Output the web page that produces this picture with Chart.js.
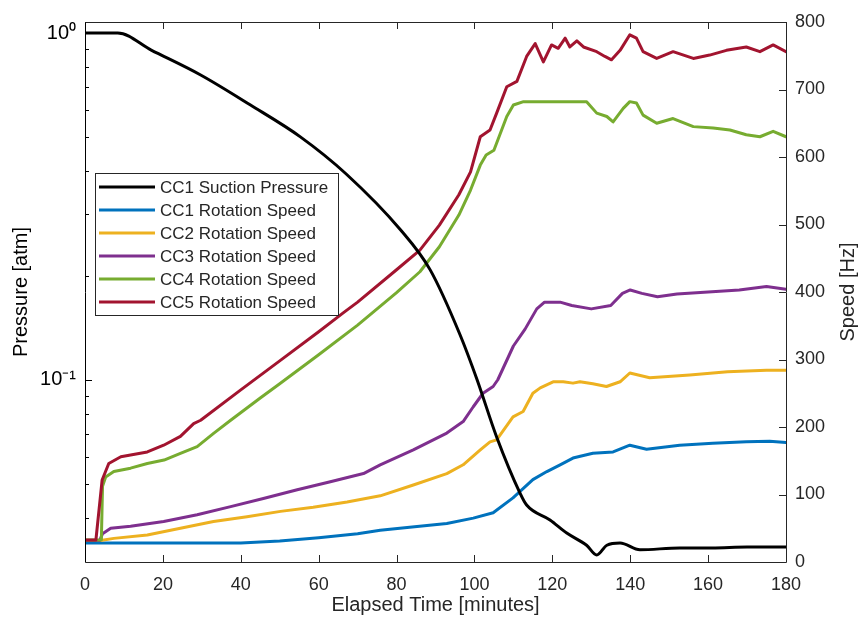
<!DOCTYPE html>
<html><head><meta charset="utf-8">
<script src="https://cdn.jsdelivr.net/npm/chart.js@4.4.0/dist/chart.umd.min.js"></script>
<style>html,body{margin:0;padding:0;background:#fff}</style>
</head><body>
<canvas id="c" width="860" height="624"></canvas>
<script>
// ---------- data ----------
const seriesLabels = ['CC1 Suction Pressure','CC1 Rotation Speed','CC2 Rotation Speed','CC3 Rotation Speed','CC4 Rotation Speed','CC5 Rotation Speed'];
const seriesColors = ['#000000','#0072BD','#EDB120','#7E2F8E','#77AC30','#A2142F'];

const pressureTime = [0, 4, 8.4, 17, 29.7, 42.5, 55.3, 67, 81, 88.6, 96.3, 100.7, 105.7, 111.7, 113.4, 119.4, 123.7, 128.8, 131.4, 134, 137.4, 142.5, 152.7, 161, 170, 180];
const pressureAtm  = [1.0, 1.0, 1.0, 0.893, 0.757, 0.620, 0.502, 0.393, 0.271, 0.208, 0.135, 0.100, 0.0685, 0.0472, 0.0436, 0.0395, 0.0362, 0.0334, 0.0313, 0.0334, 0.0339, 0.0324, 0.0328, 0.0328, 0.0330, 0.0330];

const cc1Time = [0, 40, 50, 60, 70, 75.8, 84, 92.9, 99.7, 104.8, 109.9, 115, 118.6, 122, 125.3, 130.4, 135.6, 139.9, 144.2, 152.7, 161.2, 169.8, 175.8, 180];
const cc1Hz   = [28, 28, 31, 36, 42, 47, 52, 57, 65, 73, 95, 122, 134, 144, 154, 161, 163, 173, 167, 173, 176, 178, 179, 177];

const cc2Time = [0, 4, 7.4, 16, 24.5, 33, 41.6, 50.2, 58.6, 67.3, 75.8, 84.3, 92.9, 97.1, 101.5, 104, 105.7, 109.9, 112.5, 115, 116.9, 120.2, 122.8, 125.3, 127.1, 130.4, 133.9, 137.4, 139.9, 145, 155.3, 165, 175, 180];
const cc2Hz   = [32, 32, 35, 40, 50, 60, 67, 75, 81, 89, 98, 114, 131, 144, 166, 178, 181, 215, 223, 250, 258, 267, 267, 265, 267, 264, 260, 267, 280, 273, 277, 282, 284, 284];

const cc3Time = [0, 3.8, 4.5, 6.6, 11.7, 20.2, 28.8, 37.4, 45.8, 54.5, 63, 71.5, 75.8, 84.3, 92.9, 97.1, 99.7, 102.2, 104.8, 106, 110, 113, 116, 118, 122, 125, 130, 135, 138, 140, 143, 147, 152, 160, 168, 175, 180];
const cc3Hz   = [32, 32, 42, 50, 53, 60, 70, 82, 94, 107, 119, 131, 144, 166, 191, 208, 230, 250, 260, 270, 320, 345, 375, 385, 385, 380, 375, 380, 398, 403, 398, 393, 397, 400, 403, 408, 404];

const cc4Time = [0, 4.2, 4.5, 5.3, 7.4, 11.7, 16, 20.3, 24.5, 28.8, 33.1, 37.4, 45, 50, 60, 70, 80, 86, 91, 96, 99, 101.5, 103, 105, 108.3, 110, 112.6, 128.8, 131.4, 134, 135.6, 138.2, 139.9, 141.6, 143.3, 146.8, 151, 156.2, 161.3, 165.6, 169.8, 173.3, 176.7, 180];
const cc4Hz   = [32.6, 32.6, 112, 126, 134, 139, 146, 151, 161, 171, 191, 210, 243, 264, 307, 351, 399, 430, 467, 514, 551, 588, 603, 610, 660, 677, 682, 682, 665, 660, 652, 672, 682, 680, 662, 650, 657, 645, 643, 640, 633, 630, 638, 630];

const cc5Time = [0, 2.8, 4.4, 6.1, 9.2, 11.7, 16, 20.2, 24.5, 27.9, 29.7, 40, 50, 60, 66.3, 70, 80, 86, 91, 96, 99, 101.5, 104, 105.7, 108.3, 110.9, 113.4, 115.6, 117.7, 119.8, 121.5, 123.3, 124.5, 126.3, 128, 131.4, 133.5, 135.2, 137.4, 139.9, 141.6, 143.3, 146.8, 151, 156.2, 160.4, 164.7, 169.8, 173.3, 176.7, 180];
const cc5Hz   = [32.6, 32.6, 121.5, 146, 156, 158.5, 163, 173, 186, 205, 210, 255, 298, 341, 369, 385, 433, 462, 499, 544, 578, 630, 640, 665, 704, 712, 749, 768, 741, 766, 761, 776, 763, 772, 763, 756, 749, 744, 758, 781, 776, 756, 746, 756, 746, 751, 758, 763, 756, 766, 756];

const timeTicks = [0, 20, 40, 60, 80, 100, 120, 140, 160, 180];
const speedTicks = [0, 100, 200, 300, 400, 500, 600, 700, 800];
const pressureMajorTicks = [0.1, 1];
const pressureMajorLabels = ['10\u207B\u00B9', '10\u2070'];
const pressureMinorTicks = [0.04, 0.05, 0.06, 0.07, 0.08, 0.09, 0.2, 0.3, 0.4, 0.5, 0.6, 0.7, 0.8, 0.9];

const xTitle = 'Elapsed Time [minutes]';
const yLeftTitle = 'Pressure [atm]';
const yRightTitle = 'Speed [Hz]';

// ---------- chart ----------
const FONT = '"Liberation Sans", Arial, Helvetica, sans-serif';
const AX = '#262626';
const pts = (t, v) => t.map((x, i) => ({x, y: v[i]}));

const speedSets = [[cc1Time, cc1Hz], [cc2Time, cc2Hz], [cc3Time, cc3Hz], [cc4Time, cc4Hz], [cc5Time, cc5Hz]];
const datasets = [{
  label: seriesLabels[0], data: pts(pressureTime, pressureAtm), yAxisID: 'yP',
  borderColor: seriesColors[0], borderWidth: 3, cubicInterpolationMode: 'monotone', order: 0
}].concat(speedSets.map((s, i) => ({
  label: seriesLabels[i + 1], data: pts(s[0], s[1]), yAxisID: 'yS',
  borderColor: seriesColors[i + 1], borderWidth: 3, tension: 0, order: 5 - i
})));

const framePlugin = {
  id: 'frame',
  afterDatasetsDraw(chart) {
    const {ctx, chartArea: a, scales} = chart;
    ctx.save();
    ctx.lineWidth = 1;
    const line = (x1, y1, x2, y2, c) => { ctx.strokeStyle = c; ctx.beginPath(); ctx.moveTo(x1, y1); ctx.lineTo(x2, y2); ctx.stroke(); };
    scales.x.ticks.forEach(t => {
      const px = Math.round(scales.x.getPixelForValue(t.value)) + 0.5;
      line(px, a.bottom, px, a.bottom - 7, AX);
      line(px, a.top, px, a.top + 7, AX);
    });
    scales.yP.ticks.forEach(t => {
      const py = Math.round(scales.yP.getPixelForValue(t.value)) + 0.5;
      const major = pressureMajorTicks.indexOf(t.value) >= 0;
      line(a.left, py, a.left + (major ? 7 : 4), py, '#000');
    });
    scales.yS.ticks.forEach(t => {
      const py = Math.round(scales.yS.getPixelForValue(t.value)) + 0.5;
      line(a.right, py, a.right - 7, py, AX);
    });
    const L = Math.round(a.left) + 0.5, R = Math.round(a.right) + 0.5, T = Math.round(a.top) + 0.5, B = Math.round(a.bottom) + 0.5;
    line(L, T, R, T, AX);
    line(L, B, R, B, AX);
    line(L, T, L, B, '#000');
    line(R, T, R, B, AX);

    // legend
    const lx = 95, ly = 173, lw = 243, lh = 142, row = 23;
    ctx.fillStyle = '#fff';
    ctx.fillRect(lx, ly, lw, lh);
    ctx.strokeStyle = AX;
    ctx.strokeRect(lx + 0.5, ly + 0.5, lw, lh);
    ctx.font = '17px ' + FONT;
    ctx.textBaseline = 'middle';
    ctx.textAlign = 'left';
    chart.data.datasets.forEach((d, i) => {
      const y = ly + 14 + i * row;
      ctx.strokeStyle = d.borderColor; ctx.lineWidth = 3;
      ctx.beginPath(); ctx.moveTo(lx + 4, y); ctx.lineTo(lx + 60, y); ctx.stroke();
      ctx.fillStyle = AX;
      ctx.fillText(d.label, lx + 65, y + 1);
    });

    // right axis title
    ctx.save();
    ctx.translate(848, (a.top + a.bottom) / 2);
    ctx.rotate(-Math.PI / 2);
    ctx.font = '20px ' + FONT;
    ctx.textAlign = 'center';
    ctx.textBaseline = 'middle';
    ctx.fillStyle = AX;
    ctx.fillText(yRightTitle, 0, 0);
    ctx.restore();
    ctx.restore();
  }
};

new Chart(document.getElementById('c'), {
  type: 'line',
  data: {datasets},
  plugins: [framePlugin],
  options: {
    responsive: false, animation: false, devicePixelRatio: 1,
    layout: {padding: {top: 22, left: 0, right: 0, bottom: 0}},
    elements: {point: {radius: 0}, line: {borderCapStyle: 'round', borderJoinStyle: 'round'}},
    plugins: {legend: {display: false}, tooltip: {enabled: false}},
    scales: {
      x: {
        type: 'linear', position: 'bottom', min: 0, max: 180,
        afterBuildTicks: s => { s.ticks = timeTicks.map(v => ({value: v})); },
        afterFit: s => { s.height = 62; },
        grid: {display: false, drawTicks: false}, border: {display: false},
        ticks: {font: {size: 18, family: FONT}, color: AX, padding: 12, maxRotation: 0, autoSkip: false},
        title: {display: true, text: xTitle, font: {size: 20, family: FONT}, color: AX, padding: {top: 0, bottom: 7}}
      },
      yP: {
        type: 'logarithmic', position: 'left', min: 0.02988, max: 1.0758, bounds: 'data',
        afterBuildTicks: s => { s.ticks = pressureMinorTicks.concat(pressureMajorTicks).sort((p, q) => p - q).map(v => ({value: v})); },
        afterFit: s => { s.width = 85; },
        grid: {display: false, drawTicks: false}, border: {display: false},
        ticks: {font: {size: 20, family: FONT}, color: '#000', padding: 9, autoSkip: false,
          callback: v => { const i = pressureMajorTicks.indexOf(v); return i >= 0 ? pressureMajorLabels[i] : ''; }},
        title: {display: true, text: yLeftTitle, font: {size: 20, family: FONT}, color: '#000', padding: {top: 9, bottom: 0}}
      },
      yS: {
        type: 'linear', position: 'right', min: 0, max: 800,
        afterBuildTicks: s => { s.ticks = speedTicks.map(v => ({value: v})); },
        afterFit: s => { s.width = 74; },
        grid: {display: false, drawTicks: false}, border: {display: false},
        ticks: {font: {size: 18, family: FONT}, color: AX, padding: 9, autoSkip: false}
      }
    }
  }
});
</script>
</body></html>
